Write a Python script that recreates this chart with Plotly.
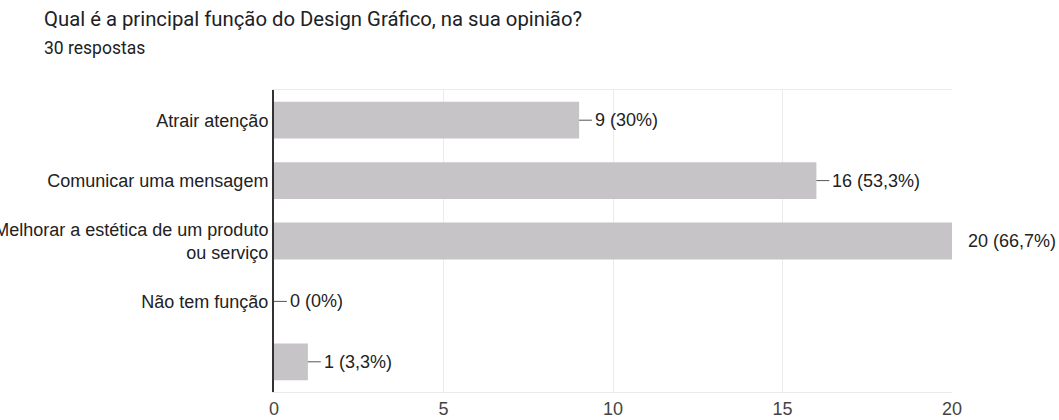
import plotly.graph_objects as go

# Survey answers and counts
categories = [
    "Atrair atenção",
    "Comunicar uma mensagem",
    "Melhorar a estética de um produto<br>ou serviço",
    "Não tem função",
    "",
]
counts = [9, 16, 20, 0, 1]
value_labels = ["9 (30%)", "16 (53,3%)", "20 (66,7%)", "0 (0%)", "1 (3,3%)"]
x_ticks = [0, 5, 10, 15, 20]

title_text = "Qual é a principal função do Design Gráfico, na sua opinião?"
subtitle_text = "30 respostas"

positions = list(range(len(categories)))

BAR_COLOR = "#c6c4c7"
TEXT_COLOR = "#222222"
CHART_FONT = "Liberation Sans, Arial, sans-serif"

# Plot area geometry in pixels
W, H = 1059, 420
ML, MR, MT, MB = 274, 107, 90, 28
PW, PH = W - ML - MR, H - MT - MB

fig = go.Figure()
fig.add_trace(
    go.Bar(
        x=counts,
        y=positions,
        orientation="h",
        width=0.61,
        marker=dict(color=BAR_COLOR, line=dict(width=0)),
        hoverinfo="skip",
        showlegend=False,
    )
)

# Value labels with short leader lines to the right of each bar
for pos, val, lab in zip(positions, counts, value_labels):
    fig.add_shape(
        type="line",
        xref="x", yref="y",
        x0=val, x1=val + 0.38, y0=pos, y1=pos,
        line=dict(color="#555555", width=1),
        layer="above",
    )
    fig.add_annotation(
        x=val, y=pos, xref="x", yref="y",
        text=lab, showarrow=False,
        xanchor="left", yanchor="middle",
        xshift=14,
        font=dict(family=CHART_FONT, size=18, color=TEXT_COLOR),
    )

# Title and subtitle placed in pixel terms relative to the plot area
fig.add_annotation(
    text=title_text, xref="paper", yref="paper",
    x=(42 - ML) / PW, y=1 + (MT - 19) / PH,
    xanchor="left", yanchor="middle", showarrow=False,
    font=dict(family="Roboto, sans-serif", size=20.3, color="#202124"),
)
fig.add_annotation(
    text=subtitle_text, xref="paper", yref="paper",
    x=(42 - ML) / PW, y=1 + (MT - 48) / PH,
    xanchor="left", yanchor="middle", showarrow=False,
    font=dict(family="Roboto, sans-serif", size=17.5, color="#202124"),
)

fig.update_layout(
    width=W,
    height=H,
    margin=dict(l=ML, r=MR, t=MT, b=MB, autoexpand=False),
    paper_bgcolor="white",
    plot_bgcolor="white",
)

fig.update_xaxes(
    range=[0, 20],
    tickvals=x_ticks,
    ticktext=[str(t) for t in x_ticks],
    showgrid=True,
    gridcolor="#ebebeb",
    gridwidth=1,
    zeroline=False,
    showline=True,
    linecolor="#ebebeb",
    linewidth=1,
    mirror=True,
    ticks="",
    automargin=False,
    tickfont=dict(family=CHART_FONT, size=18, color="#444444"),
    ticklabelstandoff=0,
)
fig.update_yaxes(
    range=[len(categories) - 0.5, -0.5],
    tickvals=positions,
    ticktext=categories,
    showgrid=False,
    zeroline=False,
    showline=True,
    linecolor="#333333",
    linewidth=2,
    ticks="",
    automargin=False,
    tickfont=dict(family=CHART_FONT, size=18, color=TEXT_COLOR),
    ticklabelstandoff=0,
)

fig.write_html("out.html")
